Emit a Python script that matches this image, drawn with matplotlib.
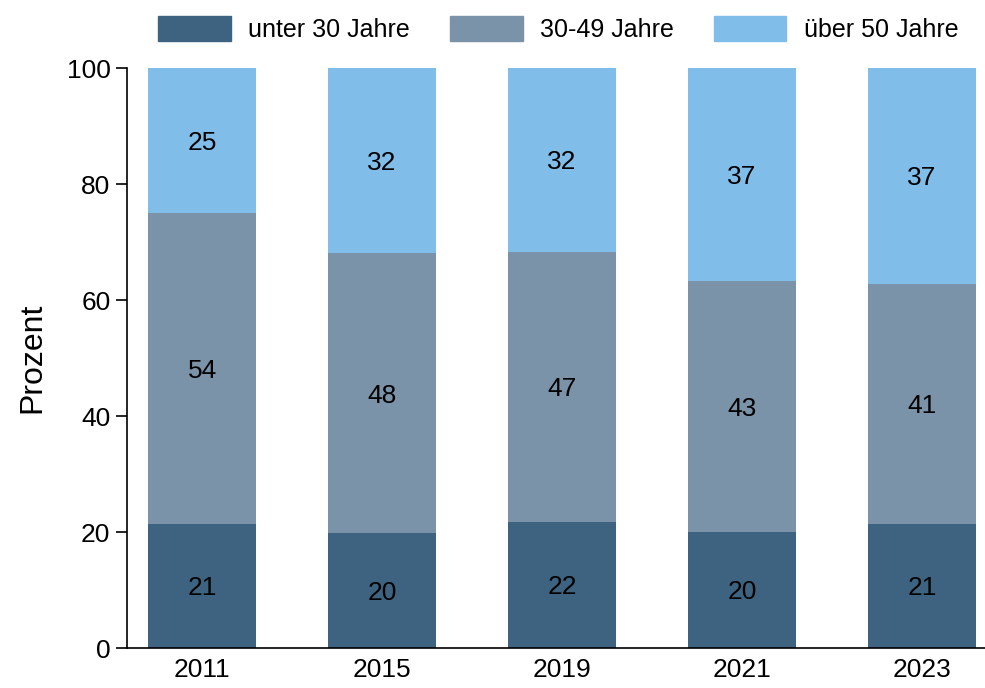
import numpy as np
import matplotlib.pyplot as plt
from matplotlib.patches import Patch

plt.rcParams['font.family'] = ['Liberation Sans', 'DejaVu Sans']

# data (percent)
years = ['2011', '2015', '2019', '2021', '2023']
unter30 = [21.4, 19.8, 21.7, 20.0, 21.4]
mitte = [53.6, 48.3, 46.6, 43.3, 41.4]
ueber50 = [25.0, 31.9, 31.7, 36.7, 37.2]
series_names = ['unter 30 Jahre', '30-49 Jahre', 'über 50 Jahre']
colors = ['#3e6380', '#7b93a9', '#80bee9']

fig = plt.figure(figsize=(9.85, 6.88), dpi=100)
ax = fig.add_axes([0.129, 0.058, 0.871, 0.843])

x = np.arange(len(years))
bottom = np.zeros(len(years))
for vals, col in zip([unter30, mitte, ueber50], colors):
    vals = np.array(vals)
    ax.bar(x, vals, width=0.6, bottom=bottom, color=col)
    for xi, b, v in zip(x, bottom, vals):
        ax.text(xi, b + v / 2 - 0.4, str(int(round(v))), ha='center', va='center',
                fontsize=19, color='black')
    bottom = bottom + vals

ax.set_xlim(-0.417, 4.35)
ax.set_ylim(0, 100)
ax.set_yticks([0, 20, 40, 60, 80, 100])
ax.set_xticks(x)
ax.set_xticklabels(years)
ax.tick_params(axis='x', length=0, labelsize=19, pad=7)
ax.tick_params(axis='y', length=8, width=1.2, labelsize=19, pad=4)
ax.set_ylabel('Prozent', fontsize=23, labelpad=14)
ax.spines['top'].set_visible(False)
ax.spines['right'].set_visible(False)
ax.spines['left'].set_linewidth(1.2)
ax.spines['bottom'].set_linewidth(1.2)

handles = [Patch(color=c) for c in colors]
fig.legend(handles, series_names, loc='center', bbox_to_anchor=(0.567, 0.958),
           ncol=3, frameon=False, fontsize=18, handlelength=2.9,
           handleheight=1.2, handletextpad=0.7, columnspacing=1.6)

fig.savefig('out.png', dpi=100)
